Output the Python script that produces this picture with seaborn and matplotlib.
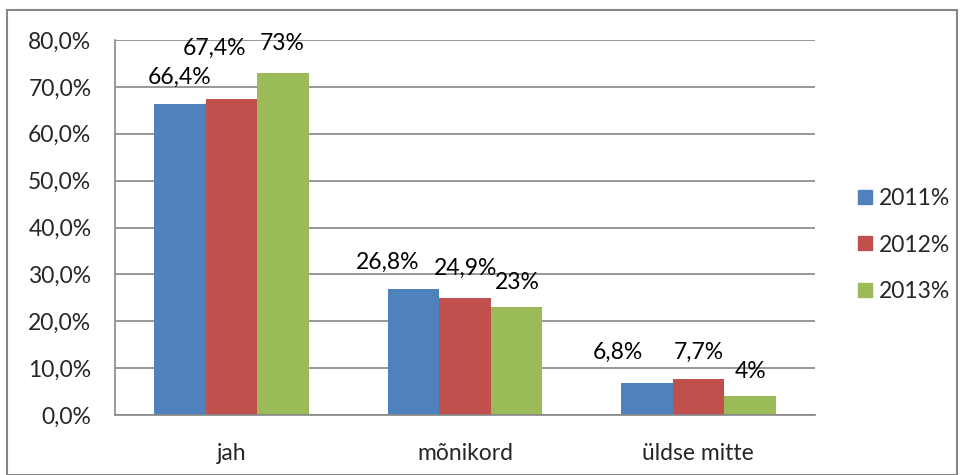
import matplotlib
matplotlib.use("Agg")
import matplotlib.pyplot as plt
import seaborn as sns
import pandas as pd
from matplotlib.patches import Rectangle
from matplotlib.lines import Line2D

categories = ["jah", "mõnikord", "üldse mitte"]
series = ["2011%", "2012%", "2013%"]
v2011 = [66.4, 26.8, 6.8]
v2012 = [67.4, 24.9, 7.7]
v2013 = [73.0, 23.0, 4.0]
labels2011 = ["66,4%", "26,8%", "6,8%"]
labels2012 = ["67,4%", "24,9%", "7,7%"]
labels2013 = ["73%", "23%", "4%"]
yticks = [0, 10, 20, 30, 40, 50, 60, 70, 80]
ytick_labels = ["0,0%", "10,0%", "20,0%", "30,0%", "40,0%", "50,0%", "60,0%", "70,0%", "80,0%"]

colors = ["#4F81BD", "#C0504D", "#9BBB59"]

rows = []
for s, vals in zip(series, [v2011, v2012, v2013]):
    for c, v in zip(categories, vals):
        rows.append({"cat": c, "series": s, "value": v})
df = pd.DataFrame(rows)

sns.set_style("white")
plt.rcParams["font.family"] = ["Lato", "DejaVu Sans"]
FS = 16.5

fig = plt.figure(figsize=(9.65, 4.75), dpi=100)
ax = fig.add_axes([115 / 965, 60 / 475, 700 / 965, 375 / 475])

sns.barplot(data=df, x="cat", y="value", hue="series", order=categories,
            hue_order=series, palette=colors, width=0.664, saturation=1,
            ax=ax, legend=False, edgecolor="none", linewidth=0)

ax.set_ylim(0, 80)
ax.set_xlim(-0.5, 2.5)
ax.set_yticks(yticks)
ax.set_yticklabels(ytick_labels)
ax.set_xlabel("")
ax.set_ylabel("")
ax.yaxis.grid(True, color="#868686", linewidth=1.2)
ax.set_axisbelow(True)

# x ticks at category boundaries, labels at centers
ax.set_xticks([-0.5, 0.5, 1.5, 2.5])
ax.set_xticklabels([])
ax.set_xticks([0, 1, 2], minor=True)
ax.set_xticklabels(categories, minor=True)
ax.tick_params(axis="x", which="major", length=8, width=1.2, color="#868686", direction="out")
ax.tick_params(axis="x", which="minor", length=0, pad=20, labelsize=FS)
ax.tick_params(axis="y", length=8, width=1.2, color="#868686", direction="out", labelsize=FS, pad=9)

for side in ["top", "right"]:
    ax.spines[side].set_visible(False)
for side in ["left", "bottom"]:
    ax.spines[side].set_color("#868686")
    ax.spines[side].set_linewidth(1.2)

# data labels with offsets (pixels: dx, dy above bar top)
all_labels = [labels2011, labels2012, labels2013]
offsets = [
    [(0, 26), (-26, 27), (-29, 31)],
    [(-17, 51), (1, 30), (0, 27)],
    [(-1, 29), (1, 25), (1, 25)],
]
for ci, cont in enumerate(ax.containers):
    for bi, patch in enumerate(cont.patches):
        x = patch.get_x() + patch.get_width() / 2
        y = patch.get_height()
        dx, dy = offsets[ci][bi]
        ax.annotate(all_labels[ci][bi], (x, y), xytext=(dx, dy),
                    textcoords="offset pixels", ha="center", va="center",
                    fontsize=FS, color="black")

# legend
handles = [Line2D([0], [0], marker="s", linestyle="none", markersize=10,
                  markerfacecolor=c, markeredgecolor=c) for c in colors]
fig.legend(handles, series, loc="center left", bbox_to_anchor=(834 / 965, 1 - 245 / 475),
           frameon=False, fontsize=FS, handletextpad=0.15, labelspacing=1.1,
           handlelength=0.9)

# outer border
fig.patches.append(Rectangle((7 / 965, 0), 950 / 965, 465 / 475, transform=fig.transFigure,
                             fill=False, edgecolor="#868686", linewidth=1.5))

fig.savefig("out.png", dpi=100)
